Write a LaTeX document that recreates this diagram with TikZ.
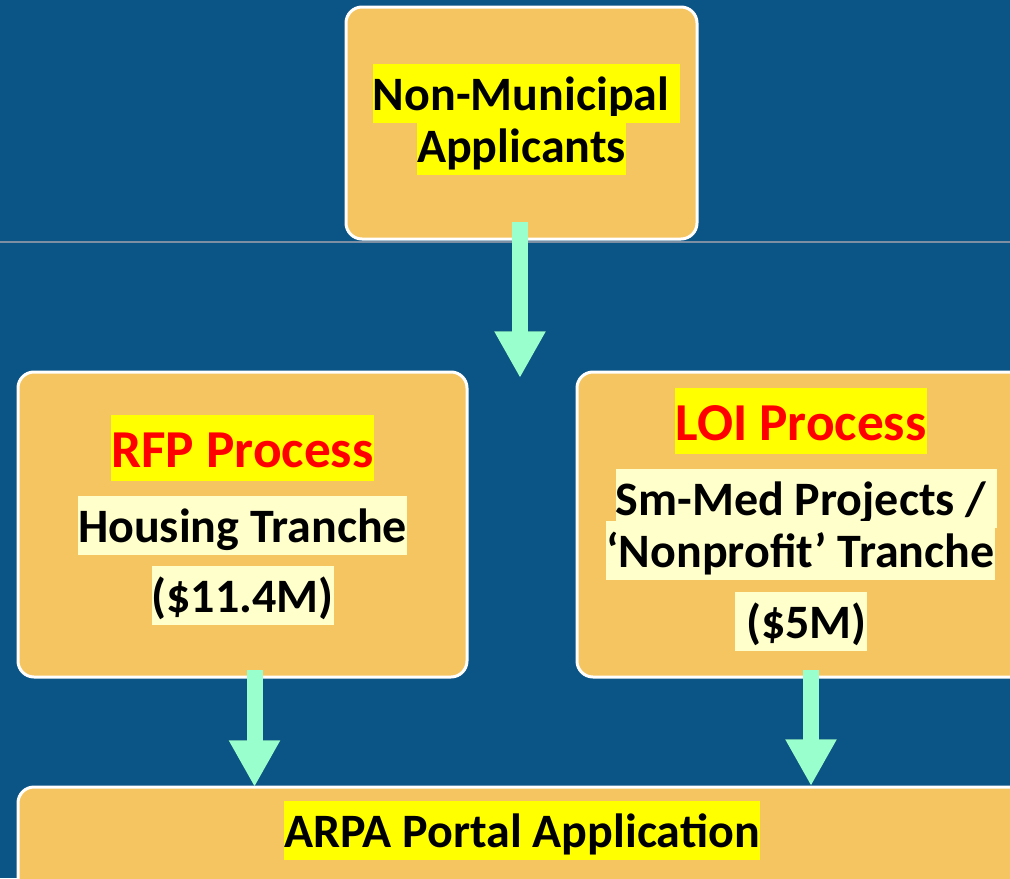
\documentclass[tikz,border=0pt]{standalone}
\usepackage{fontspec}
\setmainfont{Carlito}
\usetikzlibrary{arrows.meta,fit,calc}
\definecolor{bg}{HTML}{0B5486}
\definecolor{boxfill}{HTML}{F5C562}
\definecolor{hlyellow}{HTML}{FFFF00}
\definecolor{hlpale}{HTML}{FFFFCC}
\definecolor{mint}{HTML}{99FFCC}
\definecolor{titlered}{HTML}{FF0000}
\definecolor{ruleline}{HTML}{7F8FA3}
\begin{document}
\begin{tikzpicture}[x=0.75pt,y=-0.75pt,
  box/.style={draw=white, line width=2.25pt, fill=boxfill, rounded corners=12pt, inner sep=0pt},
  hl/.style={fill=hlyellow, inner xsep=0pt, inner ysep=0pt, text height=34.5pt, text depth=9.75pt, anchor=base, font=\fontsize{36}{36}\selectfont\bfseries},
  pale/.style={hl, fill=hlpale},
  ttl/.style={hl, text=titlered, text height=39pt, text depth=10.5pt, font=\fontsize{40}{40}\selectfont\bfseries},
  flow/.style={draw=mint, line width=12pt, line cap=butt, -{Triangle[width=36pt,length=35pt]}},
  flowshadow/.style={draw=black, opacity=0.3, line width=12pt, line cap=butt, -{Triangle[width=36pt,length=35pt]}}
]
\useasboundingbox (0,0) rectangle (1010,878);
\clip (0,0) rectangle (1010,878);
\fill[bg] (0,0) rectangle (1010,878);
\draw[ruleline, line width=1.5pt] (0,241.5) -- (1010,241.5);

% boxes
\node[box, fit={(346,7) (697,239)}] (top) {};
\node[box, fit={(18,372) (467,677)}] (rfp) {};
\node[box, fit={(577,372) (1026,677)}] (loi) {};
\node[box, fit={(18,787) (1026,920)}] (portal) {};

% texts
\node[hl] (t1) at (526.5,110) {Non-Municipal\kern.226em};
\node[hl] (t2) at (521.5,162) {Applicants};

\node[ttl] (r1) at (242.5,467) {RFP Process};
\node[pale] (r2) at (242.5,542) {Housing Tranche};
\node[pale] (r3) at (242.5,612) {(\$11.4M)};

\node[ttl] (l1) at (801,440) {LOI Process};
\node[pale] (l2) at (806.5,515) {Sm-Med Projects /\kern.226em};
\node[pale] (l3) at (800.5,567) {‘Nonprofit’ Tranche};
\node[pale] (l4) at (801,638) {\kern.226em(\$5M)};

\node[hl] (p1) at (522,847) {ARPA Portal Application};

% arrows
\coordinate (a1s) at (520,222);
\coordinate (a1e) at (520,378);
\coordinate (a2s) at (254.5,670);
\coordinate (a2e) at (254.5,787);
\coordinate (a3s) at (811,670);
\coordinate (a3e) at (811,786);
\begin{scope}[shift={(3,3)}]
  \draw[flowshadow] (a1s) -- (a1e);
  \draw[flowshadow] (a2s) -- (a2e);
  \draw[flowshadow] (a3s) -- (a3e);
\end{scope}
\draw[flow] (a1s) -- (a1e);
\draw[flow] (a2s) -- (a2e);
\draw[flow] (a3s) -- (a3e);
\end{tikzpicture}
\end{document}
